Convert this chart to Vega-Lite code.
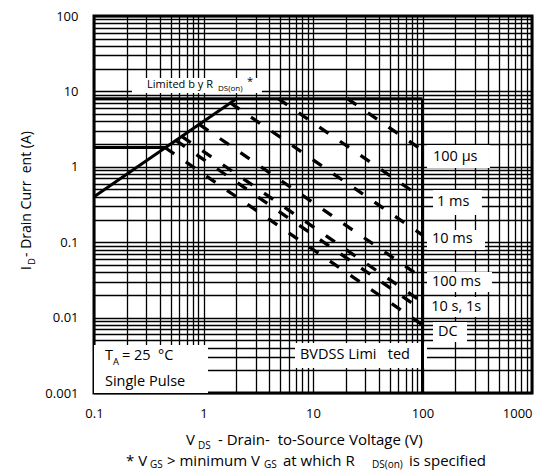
{
  "$schema": "https://vega.github.io/schema/vega-lite/v6.json",
  "width": 438,
  "height": 377,
  "autosize": {"type": "none"},
  "padding": {"left": 94, "top": 16, "right": 12, "bottom": 79},
  "background": "white",
  "config": {
    "view": {"stroke": "black", "strokeWidth": 3},
    "font": "Open Sans",
    "axis": {
      "ticks": false,
      "domain": false,
      "grid": true,
      "gridColor": "black",
      "gridWidth": 1.3,
      "gridOpacity": 1,
      "labelFont": "Open Sans",
      "labelFontSize": 13,
      "labelColor": "black",
      "labelOverlap": false,
      "labelFlush": false,
      "title": null
    }
  },
  "encoding": {
    "x": {
      "field": "V",
      "type": "quantitative",
      "scale": {"type": "log", "domain": [0.1, 1000], "nice": false},
      "axis": {
        "values": [0.1,0.2,0.3,0.4,0.5,0.6,0.7,0.8,0.9,1,2,3,4,5,6,7,8,9,10,20,30,40,50,60,70,80,90,100,200,300,400,500,600,700,800,900,1000],
        "labelExpr": "indexof(['0.1','1','10','100','1000'], '' + datum.value) >= 0 ? '' + datum.value : ''",
        "labelAlign": {"condition": {"test": "datum.value >= 1000", "value": "right"}, "value": "center"},
        "labelPadding": 14
      }
    },
    "y": {
      "field": "I",
      "type": "quantitative",
      "scale": {"type": "log", "domain": [0.001, 100], "nice": false},
      "axis": {
        "values": [0.001,0.002,0.003,0.004,0.005,0.006,0.007,0.008,0.009,0.01,0.02,0.03,0.04,0.05,0.06,0.07,0.08,0.09,0.1,0.2,0.3,0.4,0.5,0.6,0.7,0.8,0.9,1,2,3,4,5,6,7,8,9,10,20,30,40,50,60,70,80,90,100],
        "labelExpr": "indexof(['0.001','0.01','0.1','1','10','100'], '' + datum.value) >= 0 ? '' + datum.value : ''",
        "labelPadding": 16
      }
    }
  },
  "layer": [
    {
      "data": {"values": [
        {"box": "limited", "V": 0.222, "V2": 3.42, "I": 9.52, "I2": 15.06},
        {"box": "100us", "V": 109.9, "V2": 413, "I": 0.964, "I2": 1.95},
        {"box": "1ms", "V": 124.7, "V2": 349, "I": 0.2296, "I2": 0.492},
        {"box": "10ms", "V": 109.9, "V2": 372, "I": 0.0788, "I2": 0.145},
        {"box": "100ms", "V": 109.9, "V2": 431, "I": 0.0219, "I2": 0.0403},
        {"box": "10s1s", "V": 109.9, "V2": 372, "I": 0.01019, "I2": 0.01875},
        {"box": "DC", "V": 124.7, "V2": 255, "I": 0.00474, "I2": 0.00875},
        {"box": "bvdss", "V": 6.85, "V2": 109.9, "I": 0.00215, "I2": 0.0046},
        {"box": "ta", "V": 0.1, "V2": 1.10, "I": 0.001, "I2": 0.00433}
      ]},
      "mark": {"type": "rect", "fill": "white", "strokeWidth": 0},
      "encoding": {"x2": {"field": "V2"}, "y2": {"field": "I2"}}
    },
    {
      "data": {"values": [
        {"seg": "Idc", "V": 0.1, "I": 1.8}, {"seg": "Idc", "V": 0.45, "I": 1.8},
        {"seg": "Rds", "V": 0.1, "I": 0.4}, {"seg": "Rds", "V": 2, "I": 8},
        {"seg": "Imax", "V": 0.1, "I": 8}, {"seg": "Imax", "V": 100, "I": 8},
        {"seg": "BV", "V": 100, "I": 8}, {"seg": "BV", "V": 100, "I": 0.001}
      ]},
      "mark": {"type": "line", "color": "black", "strokeWidth": 3},
      "encoding": {"detail": {"field": "seg"}}
    },
    {
      "data": {"values": [
        {"pulse": "100us", "V": 20.6, "I": 8}, {"pulse": "100us", "V": 100, "I": 1.65},
        {"pulse": "1ms", "V": 4.81, "I": 8}, {"pulse": "1ms", "V": 100, "I": 0.385},
        {"pulse": "10ms", "V": 1.76, "I": 7.04}, {"pulse": "10ms", "V": 100, "I": 0.124},
        {"pulse": "100ms", "V": 0.915, "I": 3.66}, {"pulse": "100ms", "V": 100, "I": 0.0335},
        {"pulse": "1s", "V": 0.632, "I": 2.53}, {"pulse": "1s", "V": 100, "I": 0.016},
        {"pulse": "10s", "V": 0.559, "I": 2.24}, {"pulse": "10s", "V": 100, "I": 0.0125},
        {"pulse": "DC", "V": 0.447, "I": 1.79}, {"pulse": "DC", "V": 100, "I": 0.008}
      ]},
      "mark": {"type": "line", "color": "black", "strokeWidth": 3.3, "strokeDash": [11, 14]},
      "encoding": {"detail": {"field": "pulse"}}
    },
    {
      "data": {"values": [
        {"t": "100 µs", "V": 124.7, "I": 1.35},
        {"t": "1 ms", "V": 135.5, "I": 0.341},
        {"t": "10 ms", "V": 122, "I": 0.110},
        {"t": "100 ms", "V": 122, "I": 0.0297},
        {"t": "10 s, 1s", "V": 120, "I": 0.0138},
        {"t": "DC", "V": 138.7, "I": 0.00644},
        {"t": "BVDSS Limi\u00a0\u00a0 ted", "V": 7.6, "I": 0.00319},
        {"t": "T", "V": 0.126, "I": 0.0031},
        {"t": "= 25\u00a0 °C", "V": 0.180, "I": 0.0031},
        {"t": "Single Pulse", "V": 0.126, "I": 0.00142}
      ]},
      "mark": {"type": "text", "align": "left", "baseline": "middle", "fontSize": 14.5, "color": "black", "font": "Open Sans"},
      "encoding": {"text": {"field": "t"}}
    },
    {
      "data": {"values": [
        {"t": "A", "V": 0.149, "I": 0.00258}
      ]},
      "mark": {"type": "text", "align": "left", "baseline": "middle", "fontSize": 9.5, "color": "black", "font": "Open Sans"},
      "encoding": {"text": {"field": "t"}}
    },
    {
      "data": {"values": [
        {"t": "Limited b y R", "V": 0.305, "I": 12.2},
        {"t": "*", "V": 2.49, "I": 13.3}
      ]},
      "mark": {"type": "text", "align": "left", "baseline": "middle", "fontSize": 11, "color": "black", "font": "Open Sans"},
      "encoding": {"text": {"field": "t"}}
    },
    {
      "data": {"values": [
        {"t": "DS(on)", "V": 1.356, "I": 10.6}
      ]},
      "mark": {"type": "text", "align": "left", "baseline": "middle", "fontSize": 8, "color": "black", "font": "Open Sans"},
      "encoding": {"text": {"field": "t"}}
    },
    {
      "data": {"values": [
        {"t": "V", "V": 0.692, "I": 0.000238},
        {"t": "- Drain-\u00a0 to-Source Voltage (V)", "V": 1.356, "I": 0.000238},
        {"t": "* V", "V": 0.196, "I": 0.000125},
        {"t": "> minimum V", "V": 0.4642, "I": 0.000125},
        {"t": "at which R", "V": 5.32, "I": 0.000125},
        {"t": "is specified", "V": 75.3, "I": 0.000125}
      ]},
      "mark": {"type": "text", "align": "left", "baseline": "middle", "fontSize": 15, "color": "black", "font": "Open Sans"},
      "encoding": {"text": {"field": "t"}}
    },
    {
      "data": {"values": [
        {"t": "DS", "V": 0.891, "I": 0.000198},
        {"t": "GS", "V": 0.3246, "I": 0.000111},
        {"t": "GS", "V": 3.568, "I": 0.000111},
        {"t": "DS(on)", "V": 34.58, "I": 0.000111}
      ]},
      "mark": {"type": "text", "align": "left", "baseline": "middle", "fontSize": 10, "color": "black", "font": "Open Sans"},
      "encoding": {"text": {"field": "t"}}
    },
    {
      "data": {"values": [
        {"t": "I", "V": 0.0244, "I": 0.0428},
        {"t": "\u00a0- Drain Curr\u00a0 ent (A)", "V": 0.0244, "I": 0.0637}
      ]},
      "mark": {"type": "text", "align": "left", "baseline": "middle", "angle": 270, "fontSize": 14, "color": "black", "font": "Open Sans"},
      "encoding": {"text": {"field": "t"}}
    },
    {
      "data": {"values": [
        {"t": "D", "V": 0.0272, "I": 0.0499}
      ]},
      "mark": {"type": "text", "align": "left", "baseline": "middle", "angle": 270, "fontSize": 9.5, "color": "black", "font": "Open Sans"},
      "encoding": {"text": {"field": "t"}}
    }
  ]
}
